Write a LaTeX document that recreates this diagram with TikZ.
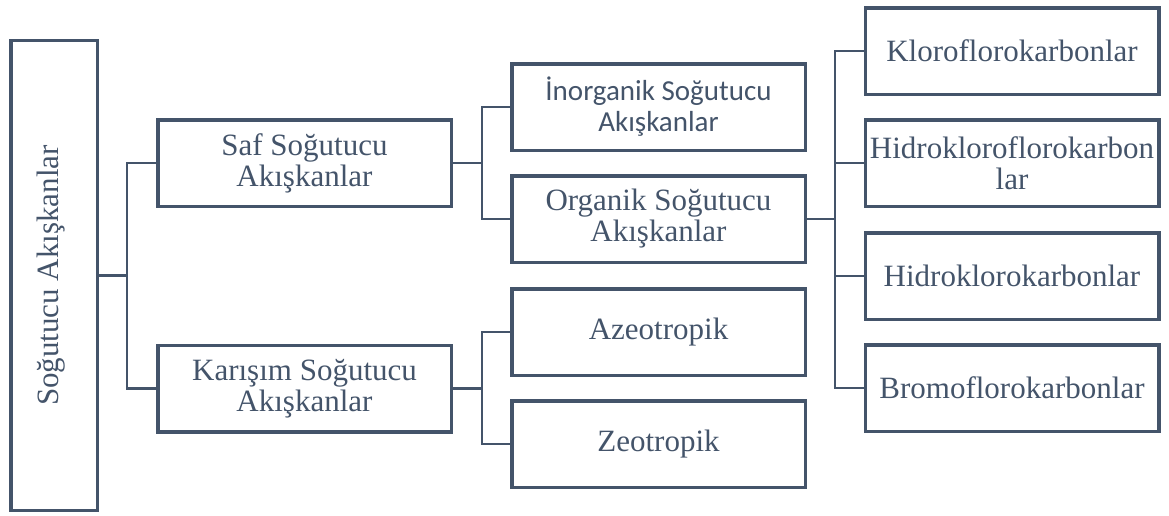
\documentclass[tikz,border=0pt]{standalone}
\usepackage{fontspec}
\setmainfont{Liberation Serif}
\newfontfamily\inorgfont{Carlito}
\usepackage{tikz}
\usetikzlibrary{positioning,calc}
\definecolor{slate}{HTML}{44546A}

\begin{document}
\begin{tikzpicture}[x=1pt, y=-1pt,
    box/.style={draw=slate, line width=3.5pt, text=slate, align=center,
        minimum width=293.5pt, minimum height=86.5pt, inner sep=0pt,
        font=\fontsize{31}{31}\selectfont},
    link/.style={draw=slate, line width=2.2pt}]
    \useasboundingbox (0,0) rectangle (1169,515);

    % Root
    \node[box, minimum width=86.5pt, minimum height=470pt] (root) at (54,275.5) {};
    \node[rotate=90, text=slate, font=\fontsize{31}{31}\selectfont] (rootlbl) at (51,275.5) {Soğutucu Akışkanlar};

    % Second level
    \node[box] (saf) at (304.5,163) {Saf Soğutucu\\Akışkanlar};
    \node[box] (karisim) at (304.5,388.5) {Karışım Soğutucu\\Akışkanlar};

    % Third level
    \node[box, font=\inorgfont\fontsize{29}{31}\selectfont] (inorg) at (658.5,107) {İnorganik Soğutucu\\Akışkanlar};
    \node[box] (org) at (658.5,219) {Organik Soğutucu\\Akışkanlar};
    \node[box] (azeo) at (658.5,332) {Azeotropik};
    \node[box] (zeo) at (658.5,444) {Zeotropik};

    % Fourth level
    \node[box] (kfk) at (1012,51) {Kloroflorokarbonlar};
    \node[box] (hkfk) at (1012,163) {Hidrokloroflorokarbon\\lar};
    \node[box] (hkk) at (1012,276) {Hidroklorokarbonlar};
    \node[box] (bfk) at (1012,388) {Bromoflorokarbonlar};

    % Junctions
    \coordinate (j1) at (127,275.5);
    \coordinate (j2) at (482,163);
    \coordinate (j3) at (482,388.5);
    \coordinate (j4) at (835,219);

    % Connectors
    \draw[link] (root.east) -- (j1);
    \draw[link] (saf.west) -| (j1) |- (karisim.west);
    \draw[link] (saf.east) -- (j2);
    \draw[link] (inorg.west) -| (j2) |- (org.west);
    \draw[link] (karisim.east) -- (j3);
    \draw[link] (azeo.west) -| (j3) |- (zeo.west);
    \draw[link] (org.east) -- (j4);
    \draw[link] (kfk.west) -| (j4) |- (bfk.west);
    \draw[link] (hkfk.west) -- (hkfk.west -| j4);
    \draw[link] (hkk.west) -- (hkk.west -| j4);

\end{tikzpicture}
\end{document}
